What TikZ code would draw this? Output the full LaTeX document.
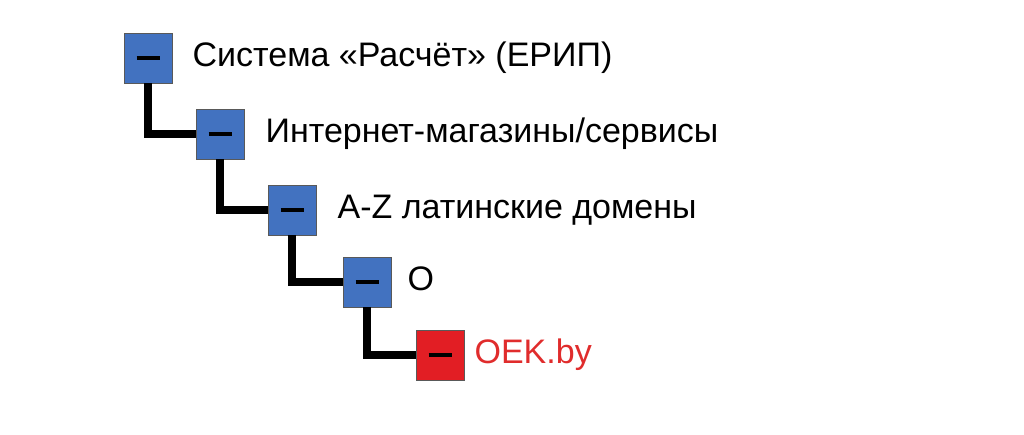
\documentclass[tikz,border=0pt]{standalone}
\usepackage{fontspec}
\setmainfont{Liberation Sans}
\usetikzlibrary{positioning}
\definecolor{boxblue}{RGB}{66,114,192}
\definecolor{boxred}{RGB}{226,30,36}
\definecolor{labred}{RGB}{224,44,44}
\begin{document}
\begin{tikzpicture}[x=1pt,y=-1pt,
    box/.style={draw=black!65,line width=0.8pt,minimum width=48pt,minimum height=50pt,inner sep=0pt},
    lab/.style={inner sep=0pt,text height=16pt,text depth=0pt,font=\fontsize{34}{40}\selectfont},
    conn/.style={line width=8pt}]
    \useasboundingbox (0,0) rectangle (1024,434);
    \foreach \i/\x/\y in {1/148/58,2/220/134,3/292/210,4/367/282}
        \node[box,fill=boxblue] (b\i) at (\x,\y) {\rule{23pt}{4.5pt}};
    \node[box,fill=boxred] (b5) at (440,355) {\rule{23pt}{4.5pt}};
    \foreach \a/\b in {1/2,2/3,3/4,4/5} \draw[conn] (b\a.south) |- (b\b.west);
    \node[lab,right=20pt of b1] (t1) {Система «Расчёт» (ЕРИП)};
    \node[lab,right=21pt of b2] (t2) {Интернет-магазины/сервисы};
    \node[lab,right=21pt of b3] (t3) {A-Z латинские домены};
    \node[lab,right=16pt of b4] (t4) {O};
    \node[lab,right=10pt of b5,text=labred] (t5) {OEK.by};
\end{tikzpicture}
\end{document}
